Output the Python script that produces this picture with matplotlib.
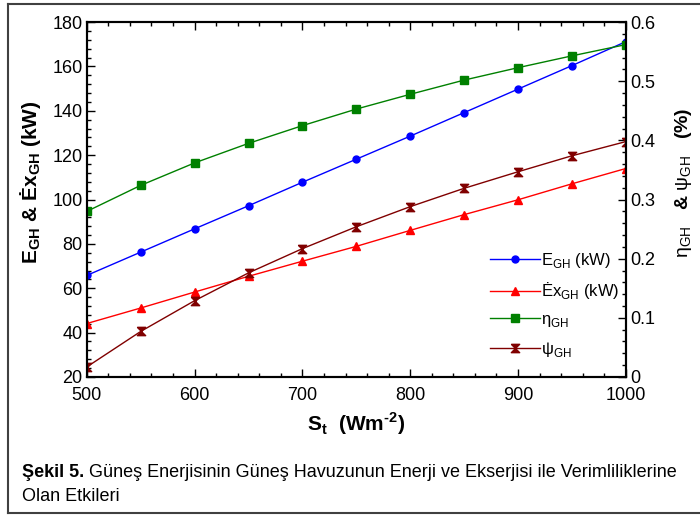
import matplotlib
matplotlib.use('Agg')
import matplotlib.pyplot as plt
from matplotlib.lines import Line2D
from matplotlib.ticker import MultipleLocator, FuncFormatter

plt.rcParams['font.family'] = ['Liberation Sans', 'DejaVu Sans']
plt.rcParams['mathtext.fontset'] = 'custom'
plt.rcParams['mathtext.rm'] = 'Liberation Sans'
plt.rcParams['mathtext.bf'] = 'Liberation Sans:bold'

# --- data ---
solar = [500, 550, 600, 650, 700, 750, 800, 850, 900, 950, 1000]          # S_t (W/m2)
energy_gh = [65.8, 76.3, 86.8, 97.2, 107.8, 118.2, 128.6, 139.2, 149.8, 160.4, 171.2]   # kW
exergy_gh = [44.1, 51.1, 58.3, 65.4, 72.2, 78.9, 86.1, 93.2, 99.9, 107.1, 114.0]        # kW
eta_gh = [0.280, 0.324, 0.362, 0.395, 0.425, 0.453, 0.478, 0.502, 0.523, 0.543, 0.562]
psi_gh = [0.017, 0.077, 0.129, 0.176, 0.217, 0.254, 0.288, 0.319, 0.347, 0.374, 0.398]

legend_labels = [r'E$_\mathregular{GH}$ (kW)', r'Ėx$_\mathregular{GH}$ (kW)',
                 r'η$_\mathregular{GH}$', r'ψ$_\mathregular{GH}$']

hourglass = [(-1, 1), (1, 1), (-1, -1), (1, -1), (-1, 1)]

fig = plt.figure(figsize=(7.0, 5.15), dpi=100)
ax = fig.add_axes([0.124, 0.268, 0.770, 0.689])
ax2 = ax.twinx()

l1, = ax.plot(solar, energy_gh, color='#0000ff', lw=1, marker='o', ms=5, mec='#0000ff')
l2, = ax.plot(solar, exergy_gh, color='#ff0000', lw=1, marker='^', ms=6, mec='#ff0000')
l3, = ax2.plot(solar, eta_gh, color='#008000', lw=1, marker='s', ms=6, mec='#008000')
l4, = ax2.plot(solar, psi_gh, color='#800000', lw=1, marker=hourglass, ms=6, mec='#800000')

ax.set_xlim(500, 1000)
ax.set_ylim(20, 180)
ax2.set_ylim(0, 0.6)

ax.xaxis.set_major_locator(MultipleLocator(100))
ax.xaxis.set_minor_locator(MultipleLocator(20))
ax.yaxis.set_major_locator(MultipleLocator(20))
ax.yaxis.set_minor_locator(MultipleLocator(4))
ax2.yaxis.set_major_locator(MultipleLocator(0.1))
ax2.yaxis.set_minor_locator(MultipleLocator(0.02))
ax2.yaxis.set_major_formatter(FuncFormatter(lambda v, p: '0' if abs(v) < 1e-9 else f'{v:.1f}'))

ax.tick_params(which='both', direction='in', top=True, right=False, labelsize=13, width=1)
ax.tick_params(which='major', length=6, pad=3)
ax.tick_params(which='minor', length=3)
ax.tick_params(axis='x', which='major', pad=7)
ax2.tick_params(which='both', direction='in', labelsize=13, width=1)
ax2.tick_params(which='major', length=6, pad=3)
ax2.tick_params(which='minor', length=3)
for a in (ax, ax2):
    for s in a.spines.values():
        s.set_linewidth(1.5)

ax.set_xlabel('S$_\\mathbf{t}$  (Wm$^\\mathbf{\u2010 2}$)', fontsize=15, fontweight='bold', labelpad=5)
ax.set_ylabel(r'E$_\mathbf{GH}$ & Ėx$_\mathbf{GH}$ (kW)', fontsize=15, fontweight='bold')
ax.yaxis.set_label_coords(-0.082, 0.549)
ax2.set_ylabel(r'$\mathrm{η_{GH}}$   & $\mathrm{ψ_{GH}}$   (%)', fontsize=14, fontweight='bold')
ax2.yaxis.set_label_coords(1.087, 0.546)

ax.legend([l1, l2, l3, l4], legend_labels, loc='upper left', bbox_to_anchor=(0.735, 0.375),
          frameon=False, fontsize=12, handlelength=3.0, handletextpad=0.1, labelspacing=0.65,
          borderaxespad=0)

# caption under the chart
t1 = fig.text(22 / 700, 1 - 477 / 515, 'Şekil 5.', fontsize=13, fontweight='bold', va='baseline')
ax.annotate(' Güneş Enerjisinin Güneş Havuzunun Enerji ve Ekserjisi ile Verimliliklerine',
            xy=(1, 0), xycoords=t1, va='bottom', ha='left', fontsize=13)
fig.text(22 / 700, 1 - 501 / 515, 'Olan Etkileri', fontsize=13, va='baseline')

# outer frame
frame_kw = dict(color='#404040', lw=1.5, transform=fig.transFigure)
fig.lines.append(Line2D([8 / 700, 8 / 700], [2 / 515, 1 - 4 / 515], **frame_kw))
fig.lines.append(Line2D([8 / 700, 1], [1 - 4 / 515, 1 - 4 / 515], **frame_kw))
fig.lines.append(Line2D([8 / 700, 1], [2 / 515, 2 / 515], **frame_kw))

fig.savefig('out.png', dpi=100)
